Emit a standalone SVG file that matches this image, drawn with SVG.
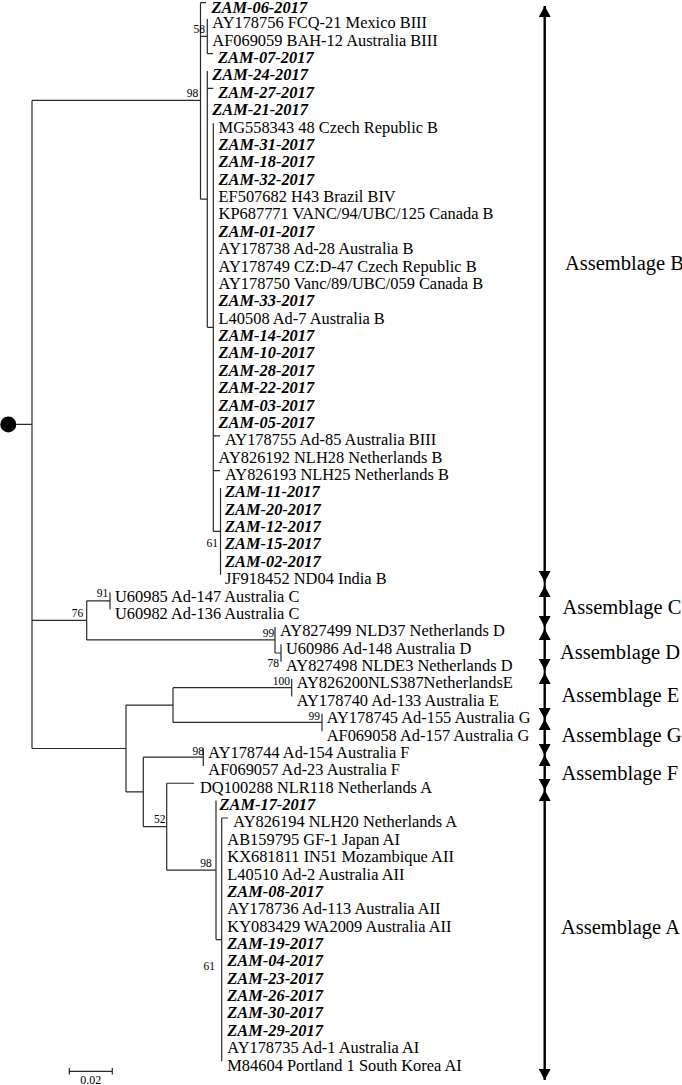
<svg xmlns="http://www.w3.org/2000/svg" width="682" height="1085" viewBox="0 0 682 1085">
<style>
.t{font-family:"Liberation Serif","Times New Roman",serif;font-size:16.4px;fill:#000}
.z{font-weight:bold;font-style:italic}
.bs{font-family:"Liberation Serif","Times New Roman",serif;font-size:11.5px;fill:#000;text-anchor:end}
.asm{font-family:"Liberation Serif","Times New Roman",serif;font-size:20.5px;fill:#000}
.br{fill:none;stroke:#2a2a2a;stroke-width:1.2}
.ar{fill:none;stroke:#000;stroke-width:2;marker-start:url(#ah);marker-end:url(#ah)}
</style>
<defs>
<marker id="ah" viewBox="0 0 11 12" markerWidth="11" markerHeight="12" refX="11" refY="6" markerUnits="userSpaceOnUse" orient="auto-start-reverse">
<path d="M0,0 L11,6 L0,12 Z" fill="#000"/>
</marker>
</defs>
<g id="connectors">
<circle cx="8.3" cy="424.45" r="8" fill="#000"/>
<path class="br" d="M16 424.45H32 M32 100.4V748.5
M32 100.4H200.5 M200.5 2.6V199.2 M200.5 2.6H206
M200.5 36.34H207.3 M207.3 18.97V53.71 M207.3 53.71H213
M200.5 199.2H207.3 M207.3 71.08V327.3 M207.3 88.45H213.3
M207.3 327.3H213.3 M213.3 123.19V531.4 M213.3 435.85H220 M213.3 470.59H220
M213.3 531.4H220.5 M220.5 487.96V574.81
M32 620.4H86.7 M86.7 600.87V639.95 M86.7 600.87H110 M110 592.18V609.55
M86.7 639.95H275 M275 626.92V652.98 M275 652.98H281 M281 644.29V661.66
M32 748.5H126 M126 705.1V791.95
M126 705.1H173 M173 687.7V722.46 M173 687.7H291.7 M291.7 679.03V696.4
M173 722.46H322 M322 713.77V731.14
M126 791.95H143.3 M143.3 757.2V826.7 M143.3 757.2H203.3 M203.3 748.51V765.88
M143.3 826.7H166.7 M166.7 783.25V870.1 M166.7 783.25H194
M166.7 870.1H216 M216 800.62V939.58 M216 939.58H221.7 M221.7 817.99V1061.17 M221.7 817.99H228"/>
<path class="br" d="M69.3 1071.3H112.3 M69.3 1068V1074.5 M112.3 1068V1074.5"/>
<line x1="544.7" y1="6" x2="544.7" y2="1080" stroke="#000" stroke-width="2"/>
</g>
<g id="bootstrap">
<text class="bs" x="198.3" y="96.7">98</text>
<text class="bs" x="205" y="33">58</text>
<text class="bs" x="218" y="547">61</text>
<text class="bs" x="108.3" y="597.3">91</text>
<text class="bs" x="83.3" y="617.3">76</text>
<text class="bs" x="274.3" y="636.5">99</text>
<text class="bs" x="279" y="667.3">78</text>
<text class="bs" x="290" y="685">100</text>
<text class="bs" x="320" y="719.5">99</text>
<text class="bs" x="204" y="755">98</text>
<text class="bs" x="165.5" y="823.3">52</text>
<text class="bs" x="211.7" y="866.7">98</text>
<text class="bs" x="215" y="970">61</text>
</g>
<g id="scale"><text class="bs" style="text-anchor:middle;font-size:12px" x="90.8" y="1083.5">0.02</text></g>
<g id="tips">
<g id="t1"><text class="t z" x="211.5" y="12.6">ZAM-06-2017</text></g>
<g id="t2"><text class="t" x="212.3" y="28.37">AY178756 FCQ-21 Mexico BIII</text></g>
<g id="t3"><text class="t" x="212.3" y="45.74">AF069059 BAH-12 Australia BIII</text></g>
<g id="t4"><text class="t z" x="218" y="63.11">ZAM-07-2017</text></g>
<g id="t5"><text class="t z" x="212.3" y="80.48">ZAM-24-2017</text></g>
<g id="t6"><text class="t z" x="218.3" y="97.85">ZAM-27-2017</text></g>
<g id="t7"><text class="t z" x="212.3" y="115.22">ZAM-21-2017</text></g>
<g id="t8"><text class="t" x="218.6" y="132.59">MG558343 48 Czech Republic B</text></g>
<g id="t9"><text class="t z" x="218.6" y="149.96">ZAM-31-2017</text></g>
<g id="t10"><text class="t z" x="218.6" y="167.33">ZAM-18-2017</text></g>
<g id="t11"><text class="t z" x="218.6" y="184.7">ZAM-32-2017</text></g>
<g id="t12"><text class="t" x="218.6" y="202.07">EF507682 H43 Brazil BIV</text></g>
<g id="t13"><text class="t" x="218.6" y="219.44">KP687771 VANC/94/UBC/125 Canada B</text></g>
<g id="t14"><text class="t z" x="218.6" y="236.81">ZAM-01-2017</text></g>
<g id="t15"><text class="t" x="218.6" y="254.18">AY178738 Ad-28 Australia B</text></g>
<g id="t16"><text class="t" x="218.6" y="271.55">AY178749 CZ:D-47 Czech Republic B</text></g>
<g id="t17"><text class="t" x="218.6" y="288.92">AY178750 Vanc/89/UBC/059 Canada B</text></g>
<g id="t18"><text class="t z" x="218.6" y="306.29">ZAM-33-2017</text></g>
<g id="t19"><text class="t" x="218.6" y="323.66">L40508 Ad-7 Australia B</text></g>
<g id="t20"><text class="t z" x="218.6" y="341.03">ZAM-14-2017</text></g>
<g id="t21"><text class="t z" x="218.6" y="358.4">ZAM-10-2017</text></g>
<g id="t22"><text class="t z" x="218.6" y="375.77">ZAM-28-2017</text></g>
<g id="t23"><text class="t z" x="218.6" y="393.14">ZAM-22-2017</text></g>
<g id="t24"><text class="t z" x="218.6" y="410.51">ZAM-03-2017</text></g>
<g id="t25"><text class="t z" x="218.6" y="427.88">ZAM-05-2017</text></g>
<g id="t26"><text class="t" x="225" y="445.25">AY178755 Ad-85 Australia BIII</text></g>
<g id="t27"><text class="t" x="218.6" y="462.62">AY826192 NLH28 Netherlands B</text></g>
<g id="t28"><text class="t" x="225" y="479.99">AY826193 NLH25 Netherlands B</text></g>
<g id="t29"><text class="t z" x="225" y="497.36">ZAM-11-2017</text></g>
<g id="t30"><text class="t z" x="225" y="514.73">ZAM-20-2017</text></g>
<g id="t31"><text class="t z" x="225" y="532.1">ZAM-12-2017</text></g>
<g id="t32"><text class="t z" x="225" y="549.47">ZAM-15-2017</text></g>
<g id="t33"><text class="t z" x="225" y="566.84">ZAM-02-2017</text></g>
<g id="t34"><text class="t" x="225" y="584.21">JF918452 ND04 India B</text></g>
<g id="t35"><text class="t" x="115" y="601.58">U60985 Ad-147 Australia C</text></g>
<g id="t36"><text class="t" x="115" y="618.95">U60982 Ad-136 Australia C</text></g>
<g id="t37"><text class="t" x="280" y="636.32">AY827499 NLD37 Netherlands D</text></g>
<g id="t38"><text class="t" x="286" y="653.69">U60986 Ad-148 Australia D</text></g>
<g id="t39"><text class="t" x="286" y="671.06">AY827498 NLDE3 Netherlands D</text></g>
<g id="t40"><text class="t" x="296.7" y="688.43">AY826200NLS387NetherlandsE</text></g>
<g id="t41"><text class="t" x="296.7" y="705.8">AY178740 Ad-133 Australia E</text></g>
<g id="t42"><text class="t" x="326.7" y="723.17">AY178745 Ad-155 Australia G</text></g>
<g id="t43"><text class="t" x="326.7" y="740.54">AF069058 Ad-157 Australia G</text></g>
<g id="t44"><text class="t" x="208.3" y="757.91">AY178744 Ad-154 Australia F</text></g>
<g id="t45"><text class="t" x="208.3" y="775.28">AF069057 Ad-23 Australia F</text></g>
<g id="t46"><text class="t" x="200" y="792.65">DQ100288 NLR118 Netherlands A</text></g>
<g id="t47"><text class="t z" x="219.5" y="810.02">ZAM-17-2017</text></g>
<g id="t48"><text class="t" x="233.3" y="827.39">AY826194 NLH20 Netherlands A</text></g>
<g id="t49"><text class="t" x="227.3" y="844.76">AB159795 GF-1 Japan AI</text></g>
<g id="t50"><text class="t" x="227.3" y="862.13">KX681811 IN51 Mozambique AII</text></g>
<g id="t51"><text class="t" x="227.3" y="879.5">L40510 Ad-2 Australia AII</text></g>
<g id="t52"><text class="t z" x="227.3" y="896.87">ZAM-08-2017</text></g>
<g id="t53"><text class="t" x="227.3" y="914.24">AY178736 Ad-113 Australia AII</text></g>
<g id="t54"><text class="t" x="227.3" y="931.61">KY083429 WA2009 Australia AII</text></g>
<g id="t55"><text class="t z" x="227.3" y="948.98">ZAM-19-2017</text></g>
<g id="t56"><text class="t z" x="227.3" y="966.35">ZAM-04-2017</text></g>
<g id="t57"><text class="t z" x="227.3" y="983.72">ZAM-23-2017</text></g>
<g id="t58"><text class="t z" x="227.3" y="1001.09">ZAM-26-2017</text></g>
<g id="t59"><text class="t z" x="227.3" y="1018.46">ZAM-30-2017</text></g>
<g id="t60"><text class="t z" x="227.3" y="1035.83">ZAM-29-2017</text></g>
<g id="t61"><text class="t" x="227.3" y="1053.2">AY178735 Ad-1 Australia AI</text></g>
<g id="t62"><text class="t" x="227.3" y="1070.57">M84604 Portland 1 South Korea AI</text></g>
</g>
<g id="asmB"><line class="ar" x1="544.7" y1="6" x2="544.7" y2="582"/><text class="asm" x="565" y="270">Assemblage B</text></g>
<g id="asmC"><line class="ar" x1="544.7" y1="586" x2="544.7" y2="627"/><text class="asm" x="562.5" y="613.6">Assemblage C</text></g>
<g id="asmD"><line class="ar" x1="544.7" y1="629" x2="544.7" y2="670"/><text class="asm" x="560" y="658.6">Assemblage D</text></g>
<g id="asmE"><line class="ar" x1="544.7" y1="673" x2="544.7" y2="719"/><text class="asm" x="561.5" y="702">Assemblage E</text></g>
<g id="asmG"><line class="ar" x1="544.7" y1="719" x2="544.7" y2="755"/><text class="asm" x="561.5" y="742">Assemblage G</text></g>
<g id="asmF"><line class="ar" x1="544.7" y1="755" x2="544.7" y2="790"/><text class="asm" x="561.5" y="780.3">Assemblage F</text></g>
<g id="asmA"><line class="ar" x1="544.7" y1="790" x2="544.7" y2="1080"/><text class="asm" x="561" y="934">Assemblage A</text></g>
</svg>
